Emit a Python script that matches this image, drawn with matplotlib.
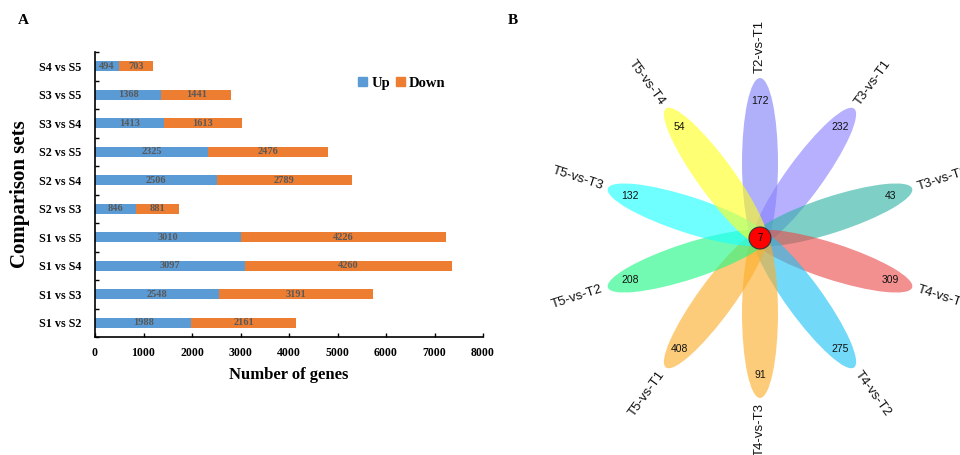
import numpy as np
import matplotlib
matplotlib.use("Agg")
import matplotlib.pyplot as plt
from matplotlib.patches import Ellipse, Circle, Patch

# ---- Panel A data: differentially expressed genes per comparison ----
comparisons = ["S1 vs S2", "S1 vs S3", "S1 vs S4", "S1 vs S5", "S2 vs S3",
               "S2 vs S4", "S2 vs S5", "S3 vs S4", "S3 vs S5", "S4 vs S5"]
up_counts = [1988, 2548, 3097, 3010, 846, 2506, 2325, 1413, 1368, 494]
down_counts = [2161, 3191, 4260, 4226, 881, 2789, 2476, 1613, 1441, 703]
x_ticks = [0, 1000, 2000, 3000, 4000, 5000, 6000, 7000, 8000]

# ---- Panel B data: flower diagram of unique genes per comparison ----
petal_names = ["T2-vs-T1", "T3-vs-T1", "T3-vs-T2", "T4-vs-T1", "T4-vs-T2",
               "T4-vs-T3", "T5-vs-T1", "T5-vs-T2", "T5-vs-T3", "T5-vs-T4"]
petal_counts = [172, 232, 43, 309, 275, 91, 408, 208, 132, 54]
petal_colors = ["#8080f8", "#8a80ff", "#2fb3a6", "#ea4a4a", "#1ec2f6",
                "#fdae2a", "#fdae2a", "#1ef884", "#19ffff", "#ffff1e"]
core_count = 7

serif = "Liberation Serif"
sans = "Liberation Sans"
c_up = "#5b9bd5"
c_down = "#ed7d31"

fig = plt.figure(figsize=(9.6, 4.55), dpi=100)

# ---------------- Panel A ----------------
ax = fig.add_axes([95 / 960, 1 - 337 / 455, 388 / 960, 285 / 455])
ypos = np.arange(len(comparisons))
bh = 0.35
ax.barh(ypos, up_counts, height=bh, color=c_up, label="Up")
ax.barh(ypos, down_counts, left=up_counts, height=bh, color=c_down, label="Down")
for y, u, d in zip(ypos, up_counts, down_counts):
    ax.text(u / 2, y, str(u), ha="center", va="center", fontsize=7.5,
            family=serif, fontweight="bold", color="#595959")
    ax.text(u + d / 2, y, str(d), ha="center", va="center", fontsize=7.5,
            family=serif, fontweight="bold", color="#595959")

ax.set_xlim(0, 8000)
ax.set_ylim(-0.5, len(comparisons) - 0.5)
ax.set_xticks(x_ticks)
ax.set_xticklabels([str(t) for t in x_ticks], family=serif, fontweight="bold", fontsize=8.5)
ax.set_yticks(ypos)
ax.set_yticklabels(comparisons, family=serif, fontweight="bold", fontsize=8.7)
ax.tick_params(axis="y", length=0, pad=10)
ax.set_yticks(np.arange(-0.5, len(comparisons) - 0.4, 1.0), minor=True)
ax.tick_params(axis="y", which="minor", direction="in", length=3, width=1)
ax.tick_params(axis="x", direction="in", length=3, width=1, pad=7)
for s in ["top", "right"]:
    ax.spines[s].set_visible(False)
for s in ["left", "bottom"]:
    ax.spines[s].set_linewidth(1.2)
ax.set_xlabel("Number of genes", family=serif, fontweight="bold", fontsize=12, labelpad=6)
ax.set_ylabel("Comparison sets", family=serif, fontweight="bold", fontsize=15, labelpad=6)
handles = [Patch(color=c_up, label="Up"), Patch(color=c_down, label="Down")]
ax.legend(handles=handles, loc="upper left", bbox_to_anchor=(0.645, 0.96),
          ncol=2, frameon=False, handlelength=0.6, handleheight=0.6,
          handletextpad=0.3, columnspacing=0.4,
          prop={"family": serif, "weight": "bold", "size": 10.5})

fig.text(18 / 960, 1 - 20 / 455, "A", family=serif, fontweight="bold", fontsize=11, va="center")
fig.text(508 / 960, 1 - 20 / 455, "B", family=serif, fontweight="bold", fontsize=11, va="center")

# ---------------- Panel B ----------------
bx = fig.add_axes([530 / 960, 0, 430 / 960, 1])
bx.set_xlim(-230, 200)
bx.set_ylim(-217, 238)
bx.set_aspect("equal")
bx.axis("off")

n = len(petal_names)
petal_len = 170
petal_w = 36
petal_off = 75
num_r = 137
lab_r = 192
for i, (name, cnt, col) in enumerate(zip(petal_names, petal_counts, petal_colors)):
    ang = 90 - i * 360 / n
    a = np.deg2rad(ang)
    cx, cy = petal_off * np.cos(a), petal_off * np.sin(a)
    bx.add_patch(Ellipse((cx, cy), petal_len, petal_w, angle=ang,
                         facecolor=col, edgecolor="none", alpha=0.62))
    bx.text(num_r * np.cos(a), num_r * np.sin(a), str(cnt), ha="center", va="center",
            fontsize=7.5, family=sans, color="#111111")
    # keep petal names readable: rotation folded into (-90, 90]
    rot = ang
    while rot > 90:
        rot -= 180
    while rot <= -90:
        rot += 180
    bx.text(lab_r * np.cos(a), lab_r * np.sin(a), name, ha="center", va="center",
            rotation=rot, rotation_mode="anchor", fontsize=9.5, family=sans, color="#111111")

bx.add_patch(Circle((0, 0), 11, facecolor="#ff0000", edgecolor="#333333", lw=0.8, zorder=5))
bx.text(0, 0, str(core_count), ha="center", va="center", fontsize=7, family=sans, zorder=6)

fig.savefig("out.png", dpi=100)
